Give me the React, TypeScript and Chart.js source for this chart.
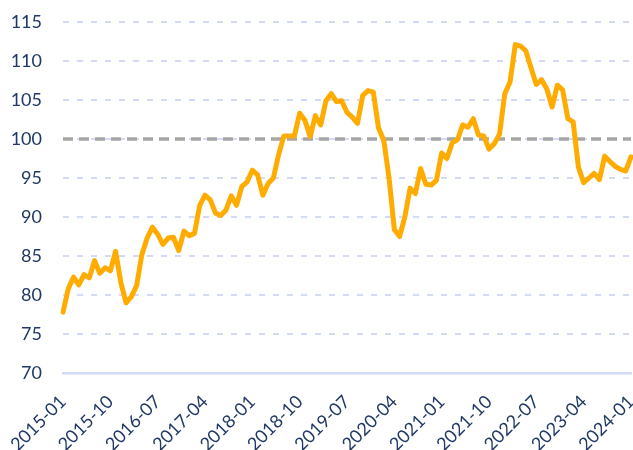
import React, { useEffect, useRef } from "react";
import { Chart, registerables } from "chart.js";

Chart.register(...registerables);

const startYear = 2015;
const monthCount = 109;
const labels: string[] = [];
for (let i = 0; i < monthCount; i++) {
  const y = startYear + Math.floor(i / 12);
  const m = (i % 12) + 1;
  labels.push(`${y}-${m < 10 ? "0" + m : m}`);
}

const indexValues = [
  77.8, 80.8, 82.3, 81.3, 82.6, 82.2, 84.4, 82.8, 83.5, 83.1, 85.6, 81.6,
  79.0, 79.8, 81.2, 85.2, 87.3, 88.7, 87.8, 86.5, 87.3, 87.4, 85.7, 88.2,
  87.6, 87.9, 91.5, 92.8, 92.2, 90.5, 90.2, 90.9, 92.7, 91.5, 93.9, 94.5,
  96.0, 95.4, 92.8, 94.3, 95.0, 98.0, 100.4, 100.4, 100.4, 103.3, 102.4, 100.3,
  103.0, 101.8, 104.9, 105.8, 104.8, 104.9, 103.4, 102.8, 102.0, 105.6, 106.2, 106.0,
  101.4, 99.8, 95.0, 88.4, 87.5, 90.0, 93.7, 93.0, 96.2, 94.2, 94.1, 94.7,
  98.2, 97.5, 99.5, 99.9, 101.8, 101.5, 102.6, 100.5, 100.4, 98.7, 99.4, 100.6,
  105.8, 107.3, 112.1, 111.9, 111.3, 109.1, 107.0, 107.6, 106.4, 104.1, 106.9, 106.3,
  102.6, 102.2, 96.4, 94.4, 95.0, 95.6, 94.8, 97.8, 97.1, 96.5, 96.1, 95.9,
  97.7,
];

const referenceLevel = 100;
const referenceValues = labels.map(() => referenceLevel);

const yMin = 70;
const yMax = 115;
const yStep = 5;
const labelEvery = 9;

export default function App() {
  const ref = useRef<HTMLCanvasElement | null>(null);
  useEffect(() => {
    if (!ref.current) return;
    const font = { family: "Lato", size: 18 };
    const chart = new Chart(ref.current, {
      type: "line",
      data: {
        labels,
        datasets: [
          {
            data: indexValues,
            borderColor: "#FFAB00",
            borderWidth: 5,
            pointRadius: 0,
            tension: 0,
            borderJoinStyle: "round",
            borderCapStyle: "round",
            fill: false,
          },
          {
            data: referenceValues,
            borderColor: "#A6A6A6",
            borderWidth: 3.5,
            borderDash: [10, 6],
            pointRadius: 0,
            fill: false,
          },
        ],
      },
      options: {
        animation: false,
        responsive: true,
        maintainAspectRatio: false,
        layout: { padding: { top: 22, right: 2, left: 0, bottom: 0 } },
        plugins: { legend: { display: false }, tooltip: { enabled: false } },
        scales: {
          x: {
            grid: { display: false },
            border: { display: true, color: "#D3DAF5", width: 2.5 },
            ticks: {
              autoSkip: false,
              minRotation: 45,
              maxRotation: 45,
              padding: 10,
              color: "#1F3864",
              font,
              callback: (_v: any, i: number) => (i % labelEvery === 0 ? labels[i] : ""),
            },
            afterFit: (s: any) => {
              s.height = 77;
              s.paddingLeft = 0;
              s.paddingRight = 0;
            },
          },
          y: {
            min: yMin,
            max: yMax,
            ticks: { stepSize: yStep, padding: 21, color: "#1F3864", font },
            grid: { color: "#D3DAF5", lineWidth: 2, drawTicks: false },
            border: { display: false, dash: [6, 8] },
            afterFit: (s: any) => {
              s.width = 63;
              s.paddingTop = 0;
              s.paddingBottom = 0;
            },
          },
        },
      },
    } as any);
    return () => chart.destroy();
  }, []);
  return (
    <div style={{ position: "absolute", left: 0, top: 0, width: 633, height: 450, background: "#fff" }}>
      <canvas ref={ref} />
    </div>
  );
}
